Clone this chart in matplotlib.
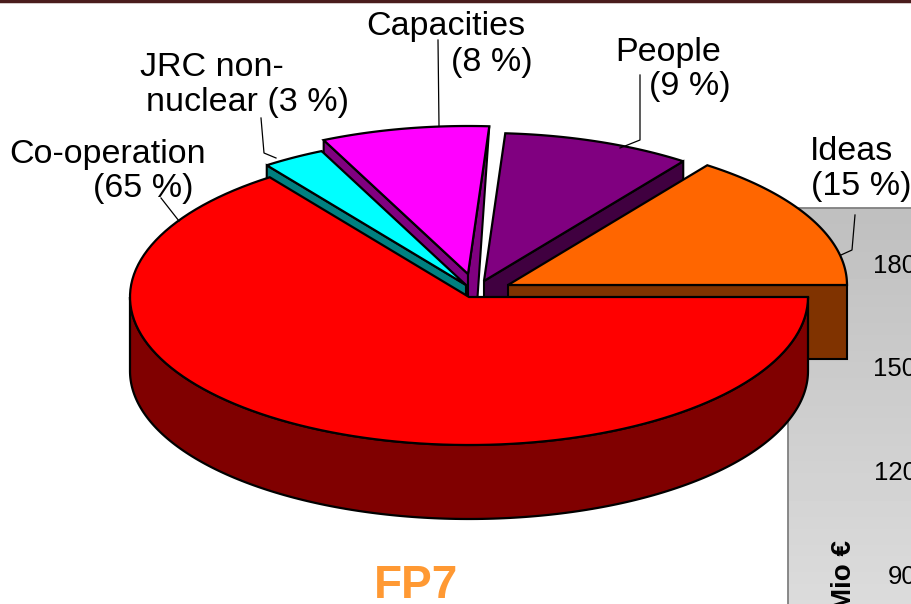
import matplotlib
matplotlib.use('Agg')
import matplotlib.pyplot as plt
import numpy as np

plt.rcParams['font.family'] = ['Liberation Sans', 'DejaVu Sans']

# shares of FP7 as printed in the labels, in clockwise order from 3 o'clock
slice_names = ['Co-operation', 'JRC non-nuclear', 'Capacities', 'People', 'Ideas']
slice_shares = [65, 3, 8, 9, 15]
tick_labels = ['1800', '1500', '1200', '900']
axis_title = 'Mio €'
chart_title = 'FP7'

top_colors = ['#ff0000', '#00ffff', '#ff00ff', '#800080', '#ff6600']
wall_colors = ['#800000', '#008080', '#800080', '#400040', '#803300']
apex = [(469, 297), (466, 285), (468, 274), (484, 281), (508, 285)]
rx = 339
ry = 148
depth = 74

# label lines: text, left x, centre y
label_lines = [
    ('Co-operation', 9, 155), ('(65 %)', 93, 188),
    ('JRC non-', 140, 67), ('nuclear (3 %)', 146, 103),
    ('Capacities', 366, 26), ('(8 %)', 451, 62),
    ('People', 615, 52), ('(9 %)', 649, 86),
    ('Ideas', 810, 151), ('(15 %)', 811, 186),
]
leaders = [
    ([161, 179], [198, 221]),
    ([261, 264, 276], [118, 153, 158]),
    ([438, 439], [40, 126]),
    ([640, 640, 620], [75, 140, 148]),
    ([855, 852, 841], [215, 250, 255]),
]


def rim(centre, angle):
    a = np.radians(angle)
    return centre[0] + rx * np.cos(a), centre[1] - ry * np.sin(a)


def cut_wall(ax, centre, angle, color, z):
    x, y = rim(centre, angle)
    pts = [centre, (x, y), (x, y + depth), (centre[0], centre[1] + depth)]
    ax.fill(*zip(*pts), facecolor=color, edgecolor='black', lw=1.5, zorder=z)


def top(ax, centre, a0, a1, color, z):
    angles = np.linspace(a0, a1, 120)
    xs, ys = rim(centre, angles)
    ax.fill(np.r_[centre[0], xs], np.r_[centre[1], ys], facecolor=color,
            edgecolor='black', lw=1.6, zorder=z)


fig = plt.figure(figsize=(9.12, 6.04), dpi=100)
ax = fig.add_axes([0, 0, 1, 1])
ax.set_xlim(0, 912)
ax.set_ylim(604, 0)
ax.axis('off')

# grey panel of the chart behind the pie
grad = np.linspace(0.75, 0.86, 100).reshape(-1, 1)
ax.imshow(grad, extent=(788, 912, 604, 208), cmap='gray', vmin=0, vmax=1, aspect='auto', zorder=1)
ax.plot([788, 788, 912], [604, 208, 208], color='#808080', lw=1.3, zorder=2)
ax.set_xlim(0, 912)
ax.set_ylim(604, 0)
for lab, y in zip(tick_labels, [266, 369, 473, 577]):
    ax.text(931, y, lab, ha='right', va='center', fontsize=18.5, color='black', zorder=2)
ax.text(844, 540, axis_title, rotation=90, ha='center', va='top', fontsize=20, fontweight='bold', zorder=2)

# top band of the slide
ax.plot([0, 912], [1, 1], color='#4a1c1c', lw=2.5, zorder=2)

# slice angles, running clockwise from 0
edges = -np.cumsum(np.r_[0, slice_shares]) * 3.6
red, jrc, cap, people, ideas = 0, 1, 2, 3, 4

# capacities: left cut wall and the narrow right one
cut_wall(ax, apex[cap], edges[cap], wall_colors[cap], 3)
x, y = rim(apex[cap], edges[cap + 1])
pts = [(x, y), apex[cap], (apex[cap][0], apex[cap][1] + depth), (apex[cap][0] + 6, apex[cap][1] + depth)]
ax.fill(*zip(*pts), facecolor=wall_colors[cap], edgecolor='black', lw=1.5, zorder=3)
top(ax, apex[cap], edges[cap], edges[cap + 1], top_colors[cap], 4)

cut_wall(ax, apex[jrc], edges[jrc], wall_colors[jrc], 5)
top(ax, apex[jrc], edges[jrc], edges[jrc + 1], top_colors[jrc], 6)

cut_wall(ax, apex[people], edges[people + 1], wall_colors[people], 5)
top(ax, apex[people], edges[people], edges[people + 1], top_colors[people], 6)

cut_wall(ax, apex[ideas], edges[ideas + 1], wall_colors[ideas], 7)
top(ax, apex[ideas], edges[ideas], edges[ideas + 1], top_colors[ideas], 8)

# co-operation: round wall in front
front = np.linspace(0, -180, 200)
xs, ys = rim(apex[red], front)
ax.fill(np.r_[xs, xs[::-1]], np.r_[ys, ys[::-1] + depth], facecolor=wall_colors[red],
        edgecolor='black', lw=1.6, zorder=9)
top(ax, apex[red], edges[red], edges[red + 1], top_colors[red], 10)

for xs, ys in leaders:
    ax.plot(xs, ys, color='black', lw=0.9, zorder=11)
for text, x, y in label_lines:
    ax.text(x, y, text, ha='left', va='center', fontsize=24.5, color='black', zorder=12)

ax.text(416, 586, chart_title, ha='center', va='center', fontsize=33, fontweight='bold', color='#ff9933', zorder=12)

plt.savefig('out.png', dpi=100)
plt.close()
